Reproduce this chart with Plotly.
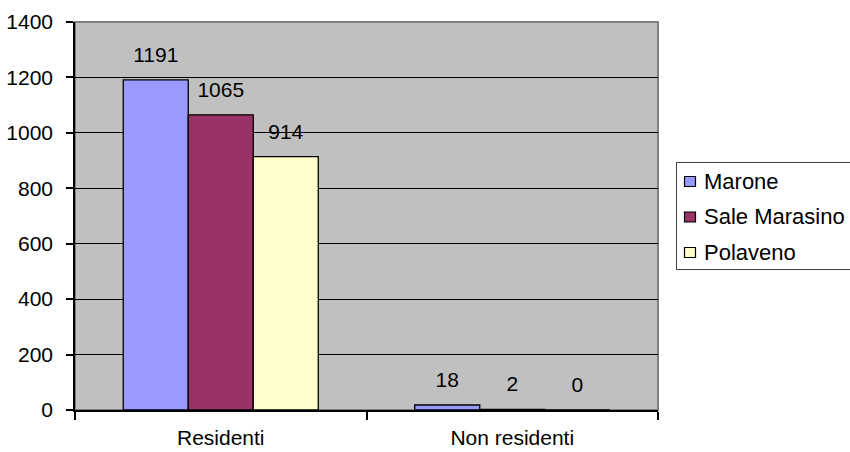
import plotly.graph_objects as go

categories = ["Residenti", "Non residenti"]
series_names = ["Marone", "Sale Marasino", "Polaveno"]
marone = [1191, 18]
sale_marasino = [1065, 2]
polaveno = [914, 0]
series_values = [marone, sale_marasino, polaveno]
series_colors = ["#9999FF", "#993366", "#FFFFCC"]
y_ticks = [0, 200, 400, 600, 800, 1000, 1200, 1400]

FONT = "Liberation Sans, Arial, sans-serif"
GAP = 0.331

W, H = 850, 452
ML, MR, MT, MB = 75, 192, 22, 42
PW, PH = W - ML - MR, H - MT - MB


def px(x):
    return (x - ML) / PW


def py(y):
    return (H - MB - y) / PH


fig = go.Figure()
for i, (name, vals, col) in enumerate(zip(series_names, series_values, series_colors)):
    fig.add_trace(go.Bar(
        x=categories, y=vals, name=name,
        marker=dict(color=col, line=dict(color="black", width=1.3)),
        offsetgroup=str(i), alignmentgroup="a", showlegend=False,
    ))
for i, vals in enumerate(series_values):
    fig.add_trace(go.Scatter(
        x=categories, y=vals, mode="markers+text",
        text=[str(v) for v in vals], textposition="top center",
        textfont=dict(family=FONT, size=21, color="black"),
        marker=dict(size=19, opacity=0),
        offsetgroup=str(i), alignmentgroup="a",
        showlegend=False, hoverinfo="skip", cliponaxis=False,
    ))

# legend box drawn by hand (Excel-style compact legend)
shapes = [
    dict(type="rect", xref="x domain", yref="y domain", x0=0, x1=1, y0=0, y1=1,
         line=dict(color="#808080", width=2), layer="below"),
    dict(type="rect", xref="paper", yref="paper",
         x0=px(676.5), x1=px(853), y0=py(162.5), y1=py(269.5),
         line=dict(color="#404040", width=1), fillcolor="white"),
]
annotations = []
row_y = [181, 216.5, 252]
for name, col, ry in zip(series_names, series_colors, row_y):
    shapes.append(dict(type="rect", xref="paper", yref="paper",
                       x0=px(684.5), x1=px(695.5), y0=py(ry + 5.5), y1=py(ry - 4.5),
                       line=dict(color="black", width=1.2), fillcolor=col))
    annotations.append(dict(xref="paper", yref="paper", x=px(702), y=py(ry),
                            xanchor="left", yanchor="middle", text=name, showarrow=False,
                            font=dict(family=FONT, size=22, color="black")))

fig.update_layout(
    width=W, height=H,
    margin=dict(l=ML, r=MR, t=MT, b=MB, autoexpand=False),
    barmode="group", bargap=GAP, bargroupgap=0,
    scattermode="group", scattergap=GAP,
    paper_bgcolor="white", plot_bgcolor="#C0C0C0",
    font=dict(family=FONT, size=21, color="black"),
    showlegend=False,
    shapes=shapes, annotations=annotations,
)
fig.update_xaxes(
    type="category", tickson="boundaries", ticks="outside", ticklen=8,
    tickcolor="black", tickwidth=1.5, showline=True, linecolor="black", linewidth=1.5,
    showgrid=False, ticklabelstandoff=8, tickfont=dict(size=21),
)
fig.update_yaxes(
    range=[0, 1400], tickvals=y_ticks, ticks="outside", ticklen=7,
    tickcolor="black", tickwidth=1.5, showline=True, linecolor="black", linewidth=1.5,
    showgrid=True, gridcolor="black", gridwidth=1, zeroline=False,
    ticklabelstandoff=9,
)

fig.write_html("out.html")
